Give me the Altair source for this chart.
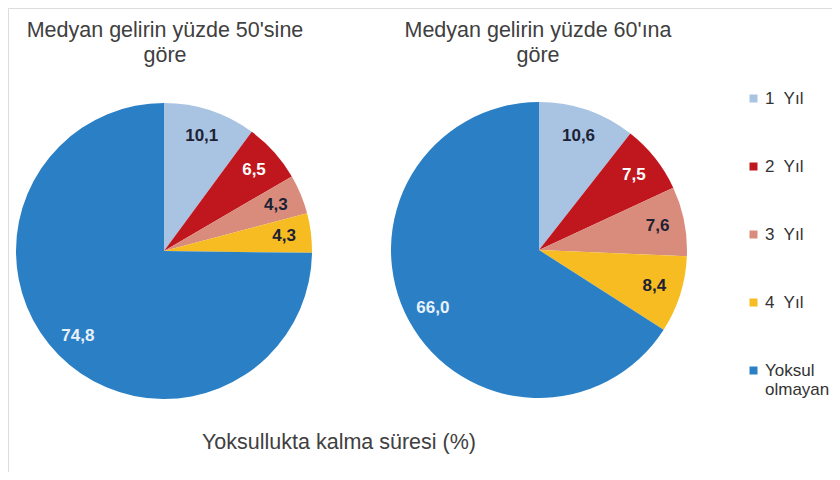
import altair as alt
import pandas as pd

categories = ["1\u00a0 Yıl", "2\u00a0 Yıl", "3\u00a0 Yıl", "4\u00a0 Yıl", "Yoksul olmayan"]
colors = ["#a9c3e3", "#c0161e", "#d98c7c", "#f6bc22", "#2b80c5"]
vals50 = [10.1, 6.5, 4.3, 4.3, 74.8]
vals60 = [10.6, 7.5, 7.6, 8.4, 66.0]
label_colors = ["#1c2233", "#ffffff", "#1c2233", "#1c2233", "#e8f1fa"]
title50 = ["Medyan gelirin yüzde 50'sine", "göre"]
title60 = ["Medyan gelirin yüzde 60'ına", "göre"]
caption = "Yoksullukta kalma süresi (%)"

FONT = "Liberation Sans"
R = 148
W, H = 824, 464
C50 = (156, 243)
C60 = (531, 242)


def frame(vals):
    return pd.DataFrame({
        "cat": categories,
        "val": vals,
        "ord": list(range(len(categories))),
        "lab": [f"{v:.1f}".replace(".", ",") for v in vals],
        "lc": label_colors,
    })


color_scale = alt.Scale(domain=categories, range=colors)
legend = alt.Legend(
    title=None, orient="none", legendX=737, legendY=82,
    symbolType="square", symbolSize=64, symbolStrokeWidth=0,
    labelFont=FONT, labelFontSize=17, labelColor="#333333",
    rowPadding=50, labelOffset=3, labelLimit=200,
    labelExpr="datum.label == 'Yoksul olmayan' ? ['Yoksul', 'olmayan'] : datum.label",
)


def pie(vals, center, show_legend):
    df = frame(vals)
    base = alt.Chart(df)
    arc = base.mark_arc(outerRadius=R).encode(
        theta=alt.Theta("val:Q", stack=True),
        order=alt.Order("ord:Q"),
        color=alt.Color("cat:N", scale=color_scale,
                        legend=legend if show_legend else None,
                        sort=categories),
        x=alt.value(center[0]), y=alt.value(center[1]),
    )
    txt = base.mark_text(radius=121, font=FONT, fontSize=17, fontWeight="bold").encode(
        theta=alt.Theta("val:Q", stack=True),
        order=alt.Order("ord:Q"),
        text="lab:N",
        color=alt.Color("lc:N", scale=None),
        x=alt.value(center[0]), y=alt.value(center[1]),
    )
    return arc, txt


a1, t1 = pie(vals50, C50, True)
a2, t2 = pie(vals60, C60, False)

title_layer = alt.Chart(pd.DataFrame({"t": ["\n".join(title50)]})).mark_text(
    font=FONT, fontSize=21.5, color="#404040", lineBreak="\n", lineHeight=25,
    baseline="top", align="center"
).encode(text="t:N", x=alt.value(C50[0] + 1), y=alt.value(12))
title_layer2 = alt.Chart(pd.DataFrame({"t": ["\n".join(title60)]})).mark_text(
    font=FONT, fontSize=21.5, color="#404040", lineBreak="\n", lineHeight=25,
    baseline="top", align="center"
).encode(text="t:N", x=alt.value(C60[0] - 1), y=alt.value(12))
cap = alt.Chart(pd.DataFrame({"t": [caption]})).mark_text(
    font=FONT, fontSize=21.5, color="#404040", baseline="middle", align="center"
).encode(text="t:N", x=alt.value(331), y=alt.value(435))

chart = alt.layer(a1, t1, a2, t2, title_layer, title_layer2, cap).resolve_scale(
    theta="independent"
).properties(
    width=W, height=H, padding=0, autosize=alt.AutoSizeParams(type="none")
).configure_view(stroke=None).configure(background="white")

chart.save("out.html", embed_options={"renderer": "svg", "actions": False})
